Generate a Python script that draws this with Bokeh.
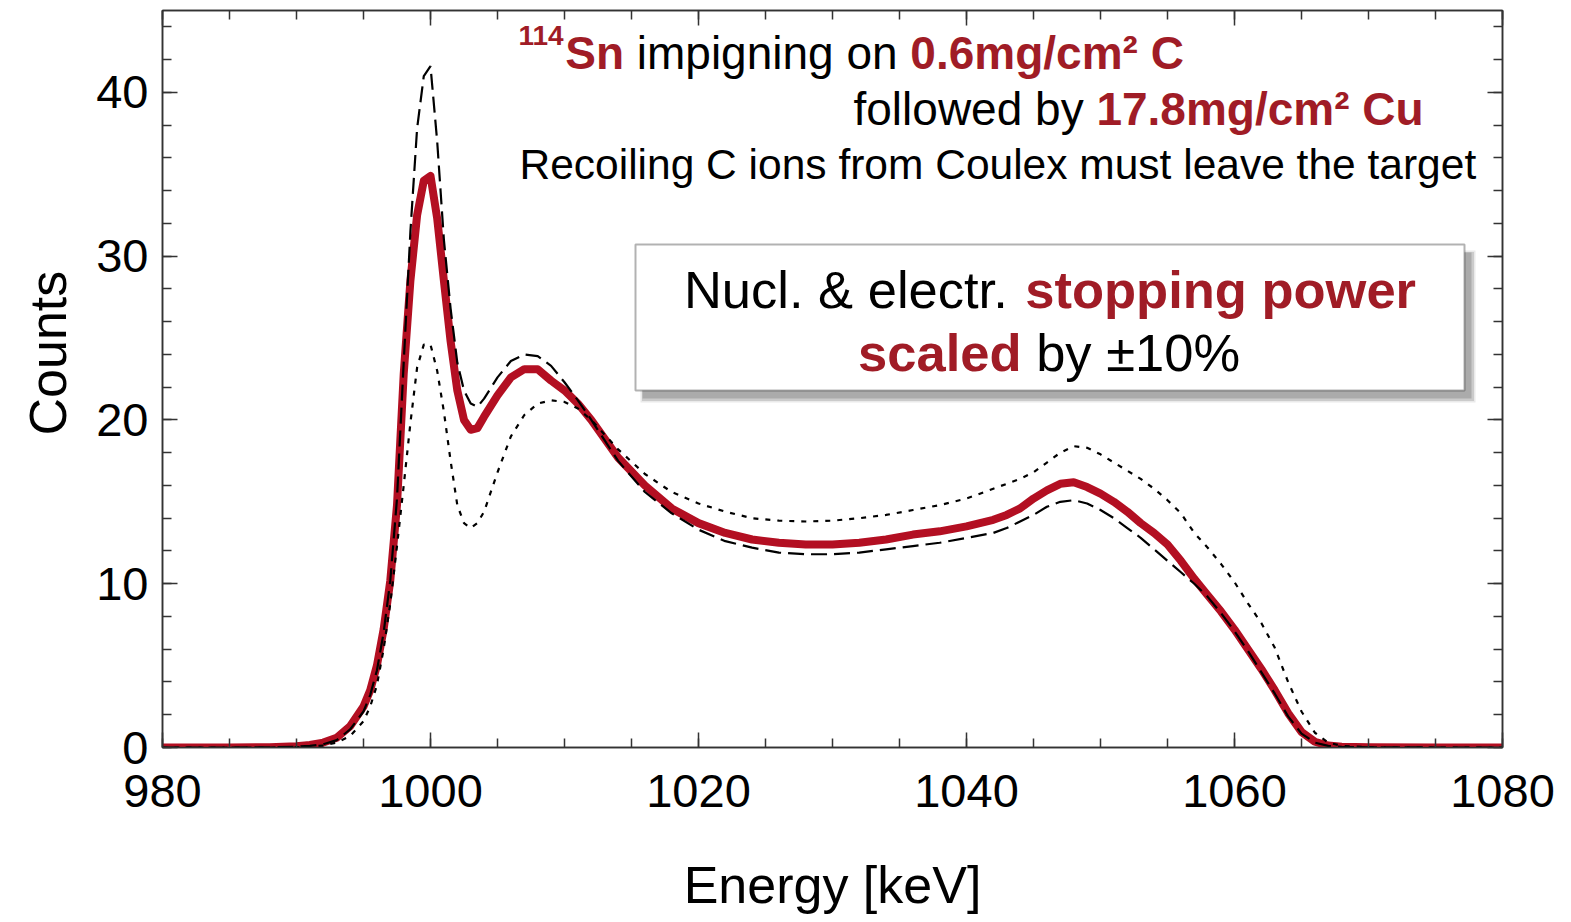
from bokeh.plotting import figure
from bokeh.models import (Range1d, LinearAxis, SingleIntervalTicker, Label, Title,
                          BoxAnnotation, ColumnDataSource, CustomLabelingPolicy)
from bokeh.embed import file_html
from bokeh.resources import INLINE

# ---------------- data ----------------
energy = [980, 985, 988, 990, 991, 992, 993, 994, 995, 995.5, 996, 996.5, 997,
          997.5, 998, 998.5, 999, 999.5, 1000, 1000.5, 1001, 1001.5, 1002,
          1002.5, 1003, 1003.5, 1004, 1005, 1006, 1007, 1008, 1009, 1010, 1011,
          1012, 1014, 1016, 1018, 1020, 1022, 1024, 1026, 1028, 1030, 1032,
          1034, 1036, 1038, 1040, 1042, 1043, 1044, 1045, 1046, 1047, 1048,
          1049, 1050, 1051, 1052, 1053, 1054, 1055, 1056, 1057, 1058, 1059,
          1060, 1061, 1062, 1063, 1064, 1065, 1066, 1067, 1068, 1070, 1075, 1080]

counts_nominal = [0.0, 0.0, 0.02, 0.08, 0.15, 0.3, 0.6, 1.3, 2.5, 3.5, 5.0, 7.2, 10.2,
                  14.8, 22.8, 28.5, 32.5, 34.6, 34.9, 32.3, 28.5, 24.8, 21.8,
                  20.0, 19.4, 19.5, 20.2, 21.5, 22.6, 23.1, 23.1, 22.4, 21.8, 21.0,
                  20.0, 17.7, 16.0, 14.6, 13.7, 13.1, 12.7, 12.5, 12.4, 12.4, 12.5,
                  12.7, 13.0, 13.2, 13.5, 13.9, 14.2, 14.6, 15.2, 15.7, 16.1, 16.2,
                  15.9, 15.5, 15.0, 14.4, 13.7, 13.1, 12.4, 11.4, 10.3, 9.3, 8.3,
                  7.2, 6.0, 4.8, 3.5, 2.1, 0.95, 0.35, 0.12, 0.05, 0.02, 0.0, 0.0]

counts_dashed = [0.0, 0.0, 0.01, 0.05, 0.1, 0.2, 0.45, 1.1, 2.2, 3.2, 4.7, 7.0, 10.2,
                 15.2, 23.5, 31.5, 37.8, 41.0, 41.6, 37.0, 31.0, 26.8, 23.5,
                 21.8, 21.0, 20.8, 21.3, 22.6, 23.6, 24.0, 23.9, 23.3, 22.3, 21.2,
                 20.0, 17.5, 15.6, 14.3, 13.3, 12.6, 12.2, 11.9, 11.8, 11.8, 11.9,
                 12.1, 12.3, 12.5, 12.8, 13.1, 13.4, 13.8, 14.2, 14.7, 15.0, 15.1,
                 14.9, 14.5, 14.0, 13.4, 12.8, 12.1, 11.4, 10.7, 10.0, 9.2, 8.2,
                 7.1, 5.9, 4.6, 3.3, 1.9, 0.85, 0.3, 0.1, 0.04, 0.01, 0.0, 0.0]

counts_dotted = [0.0, 0.0, 0.0, 0.02, 0.05, 0.12, 0.3, 0.7, 1.6, 2.5, 3.8, 6.0, 8.8,
                 12.3, 16.0, 19.8, 23.2, 24.6, 24.6, 23.0, 20.5, 17.5, 14.8,
                 13.7, 13.4, 13.7, 14.4, 16.8, 19.0, 20.3, 21.0, 21.2, 21.1, 20.7,
                 20.0, 18.2, 16.7, 15.6, 14.9, 14.4, 14.0, 13.85, 13.8, 13.85, 14.0,
                 14.2, 14.5, 14.8, 15.2, 15.8, 16.1, 16.4, 16.8, 17.4, 18.0, 18.4,
                 18.3, 17.9, 17.4, 16.9, 16.4, 15.8, 15.1, 14.3, 13.1, 12.2, 11.2,
                 10.1, 8.8, 7.6, 6.1, 4.0, 2.2, 0.9, 0.3, 0.1, 0.02, 0.0, 0.0]

x_ticks_interval = 20
y_ticks_interval = 10
x_title = "Energy [keV]"
y_title = "Counts"

# ---------------- layout constants ----------------
W, H = 1571, 922
FL, FR, FT, FB = 162, 1502, 10, 747   # frame edges in pixels
X0, X1, Y0, Y1 = 980, 1080, 0, 45
BASE_FIX = 16                          # alphabetic-baseline correction (px)

RED_LINE = "#B30F22"
RED_TXT = "#A01C26"
FONT = "Liberation Sans"

p = figure(width=W, height=H, output_backend="svg", toolbar_location=None,
           x_range=Range1d(X0, X1), y_range=Range1d(Y0, Y1),
           min_border_left=FL, min_border_right=W - FR,
           min_border_top=FT, min_border_bottom=H - FB,
           x_axis_label=x_title)
p.grid.visible = False
p.background_fill_color = "white"
p.border_fill_color = "white"
p.outline_line_color = "#222222"
p.outline_line_width = 1.5

xticker = SingleIntervalTicker(interval=x_ticks_interval, num_minor_ticks=4)
yticker = SingleIntervalTicker(interval=y_ticks_interval, num_minor_ticks=5)


def style_axis(ax, labels=True):
    ax.axis_line_color = "#333333"
    ax.axis_line_width = 1.5
    ax.major_tick_line_color = "#333333"
    ax.minor_tick_line_color = "#333333"
    ax.major_tick_line_width = 1.5
    ax.minor_tick_line_width = 1.5
    ax.major_tick_in = 15
    ax.major_tick_out = 0
    ax.minor_tick_in = 9
    ax.minor_tick_out = 0
    ax.major_label_text_font = FONT
    ax.axis_label_text_font = FONT
    ax.axis_label_text_font_style = "normal"
    ax.axis_label_text_color = "black"
    ax.major_label_text_color = "black"
    if labels:
        ax.major_label_text_font_size = "47px"
        ax.axis_label_text_font_size = "52px"
    else:
        ax.major_label_text_font_size = "0px"
        ax.major_label_standoff = 0
        ax.major_label_policy = CustomLabelingPolicy(code="return new Set()")


p.xaxis.ticker = xticker
p.yaxis.ticker = yticker
style_axis(p.xaxis[0])
style_axis(p.yaxis[0])
p.xaxis[0].major_label_standoff = 27
p.xaxis[0].axis_label_standoff = 46
p.yaxis[0].major_label_standoff = 14

top_ax = LinearAxis(ticker=xticker)
right_ax = LinearAxis(ticker=yticker)
style_axis(top_ax, labels=False)
style_axis(right_ax, labels=False)
p.add_layout(top_ax, "above")
p.add_layout(right_ax, "right")

# y-axis title as a left-side title, lifted a little above the frame centre
p.add_layout(Title(text=y_title, align="left", offset=312, standoff=33,
                   text_font=FONT, text_font_size="52px",
                   text_font_style="normal", text_color="black"), "left")

src = ColumnDataSource(dict(e=energy, nom=counts_nominal,
                            da=counts_dashed, do=counts_dotted))
p.line("e", "nom", source=src, line_color=RED_LINE, line_width=8,
       line_join="round", line_cap="round")
p.line("e", "da", source=src, line_color="black", line_width=2.2,
       line_dash="16 7")
p.line("e", "do", source=src, line_color="black", line_width=2.2,
       line_dash="5 7")

# ---------------- annotations ----------------
def xd(px):
    return X0 + (px - FL) * (X1 - X0) / (FR - FL)


def yd(py):
    return Y0 + (FB - py) * (Y1 - Y0) / (FB - FT)


REG = {' ': 278, '.': 278, '/': 278, '&': 667, '±': 584, '%': 889, '²': 333,
       'a': 556, 'b': 556, 'c': 500, 'd': 556, 'e': 556, 'f': 278, 'g': 556,
       'h': 556, 'i': 222, 'l': 222, 'm': 833, 'n': 556, 'o': 556, 'p': 556,
       'r': 333, 's': 500, 't': 278, 'u': 556, 'v': 500, 'w': 722, 'x': 500,
       'y': 500, 'C': 722, 'N': 722, 'R': 722, 'S': 667}
BOLD = {' ': 278, '.': 278, '/': 278, '&': 722, '±': 584, '%': 889, '²': 333,
        'a': 556, 'b': 611, 'c': 556, 'd': 611, 'e': 556, 'f': 333, 'g': 611,
        'h': 611, 'i': 278, 'l': 278, 'm': 889, 'n': 611, 'o': 611, 'p': 611,
        'r': 389, 's': 556, 't': 333, 'u': 611, 'v': 556, 'w': 778, 'x': 556,
        'y': 556, 'C': 722, 'N': 722, 'R': 722, 'S': 667}


def tw(s, bold, size):
    tab = BOLD if bold else REG
    return sum(tab.get(ch, 556) for ch in s) / 1000.0 * size


def runs_width(runs):
    return sum(tw(t, b, s) for t, b, c, s, r in runs)


def place(runs, x_px, base_px):
    x = x_px
    base_px = base_px - BASE_FIX
    for text, bold, color, size, rise in runs:
        lead = len(text) - len(text.lstrip(" "))
        stripped = text.strip(" ")
        if stripped:
            p.add_layout(Label(
                x=xd(x + tw(" " * lead, bold, size)), y=yd(base_px - rise),
                text=stripped, text_font=FONT, text_font_size=f"{size}px",
                text_font_style="bold" if bold else "normal",
                text_color=color, text_align="left",
                text_baseline="alphabetic"))
        x += tw(text, bold, size)


line1 = [("114", True, RED_TXT, 28, 17), ("Sn", True, RED_TXT, 46, 0),
         (" impigning on ", False, "black", 46, 0),
         ("0.6mg/cm² C", True, RED_TXT, 46, 0)]
line2 = [("followed by ", False, "black", 46, 0),
         ("17.8mg/cm² Cu", True, RED_TXT, 46, 0)]
line3 = [("Recoiling C ions from Coulex must leave the target", False, "black", 42.5, 0)]

place(line1, 518, 68)
place(line2, 853, 124)
place(line3, 519, 180)

# box with shadow
BL, BR, BT, BB = 635, 1464, 244, 390
for off, grow, alpha in [(8, 3, 0.15), (8, 1.5, 0.25), (7, 0, 0.35)]:
    p.add_layout(BoxAnnotation(left=xd(BL + off - grow), right=xd(BR + off + grow),
                               top=yd(BT + off + 1 - grow), bottom=yd(BB + off + 1 + grow),
                               fill_color="#707070", fill_alpha=alpha,
                               line_color=None))
p.add_layout(BoxAnnotation(left=xd(BL), right=xd(BR), top=yd(BT), bottom=yd(BB),
                           fill_color="white", fill_alpha=1.0,
                           line_color="black", line_width=2))

box1 = [("Nucl. & electr. ", False, "black", 52.5, 0),
        ("stopping power", True, RED_TXT, 52.5, 0)]
box2 = [("scaled", True, RED_TXT, 52.5, 0), (" by ±10%", False, "black", 52.5, 0)]
cx = (BL + BR) / 2
place(box1, cx - runs_width(box1) / 2, 305)
place(box2, cx - runs_width(box2) / 2, 368)

open("out.html", "w").write(file_html(p, INLINE))
